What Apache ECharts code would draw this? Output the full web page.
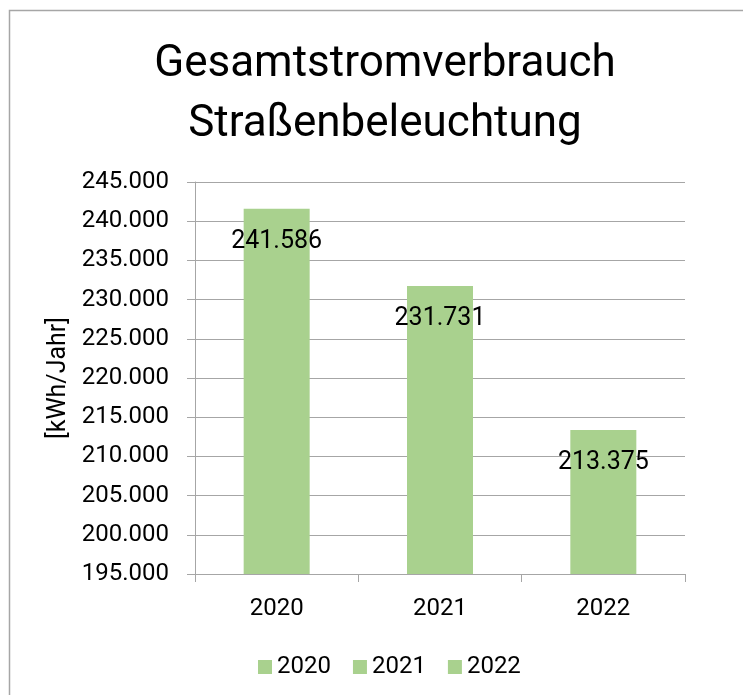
<!DOCTYPE html>
<html>
<head>
<meta charset="utf-8">
<script src="https://cdn.jsdelivr.net/npm/echarts@6/dist/echarts.min.js"></script>
<style>
  html, body { margin: 0; padding: 0; background: #ffffff; }
  #chart { width: 743px; height: 695px; }
</style>
</head>
<body>
<div id="chart"></div>
<script>
// Jahre und Gesamtverbrauch der Straßenbeleuchtung
const years = ['2020', '2021', '2022'];
const consumption = [241586, 231731, 213375];

// Werteachse
const yMin = 195000;
const yMax = 245000;
const yStep = 5000;

const FONT = 'Roboto';
const GREEN = '#a9d18e';
const GRID_GREY = '#a6a6a6';

// Zahlen mit Punkt als Tausendertrennzeichen
function formatDe(v) {
  return String(Math.round(v)).replace(/\B(?=(\d{3})+(?!\d))/g, '.');
}

// Eine Reihe je Jahr, damit die Legende drei Einträge zeigt
const series = years.map((year, i) => ({
  name: year,
  type: 'bar',
  stack: 'gesamt',
  barWidth: 66,
  itemStyle: { color: GREEN },
  label: {
    show: true,
    position: 'insideTop',
    distance: 20,
    fontFamily: FONT,
    fontSize: 25,
    color: '#000000',
    formatter: p => formatDe(p.value)
  },
  data: years.map((_, j) => (j === i ? consumption[i] : '-'))
}));

const chart = echarts.init(document.getElementById('chart'), null, { renderer: 'canvas' });

chart.setOption({
  animation: false,
  backgroundColor: '#ffffff',
  textStyle: { fontFamily: FONT },
  title: {
    text: 'Gesamtstromverbrauch\nStraßenbeleuchtung',
    left: 380,
    textAlign: 'center',
    top: 30,
    textStyle: {
      fontFamily: FONT,
      fontSize: 44,
      fontWeight: 'normal',
      lineHeight: 60,
      color: '#000000'
    }
  },
  graphic: [{
    type: 'rect',
    shape: { x: 9.5, y: 10.5, width: 760, height: 720 },
    style: { fill: 'none', stroke: GRID_GREY, lineWidth: 1.5 },
    silent: true,
    z: -1
  }],
  legend: {
    data: years,
    left: 253,
    top: 650,
    icon: 'rect',
    itemWidth: 14,
    itemHeight: 14,
    itemGap: 22,
    textStyle: { fontFamily: FONT, fontSize: 24, color: '#000000' }
  },
  grid: { left: 195, right: 58, top: 182, bottom: 121, containLabel: false },
  xAxis: {
    type: 'category',
    data: years,
    axisLine: { show: true, lineStyle: { color: GRID_GREY, width: 1 } },
    axisTick: { show: true, length: 8, lineStyle: { color: GRID_GREY } },
    axisLabel: { fontFamily: FONT, fontSize: 24, color: '#000000', margin: 23 }
  },
  yAxis: {
    type: 'value',
    min: yMin,
    max: yMax,
    interval: yStep,
    name: '[kWh/Jahr]',
    nameLocation: 'middle',
    nameGap: 110,
    nameTextStyle: { fontFamily: FONT, fontSize: 25, color: '#000000' },
    axisLine: { show: true, lineStyle: { color: GRID_GREY, width: 1 } },
    axisTick: { show: true, length: 8, lineStyle: { color: GRID_GREY } },
    splitLine: { show: true, lineStyle: { color: GRID_GREY, width: 1 } },
    axisLabel: {
      fontFamily: FONT,
      fontSize: 24,
      color: '#000000',
      margin: 26,
      formatter: v => formatDe(v)
    }
  },
  series: series
});
</script>
</body>
</html>
